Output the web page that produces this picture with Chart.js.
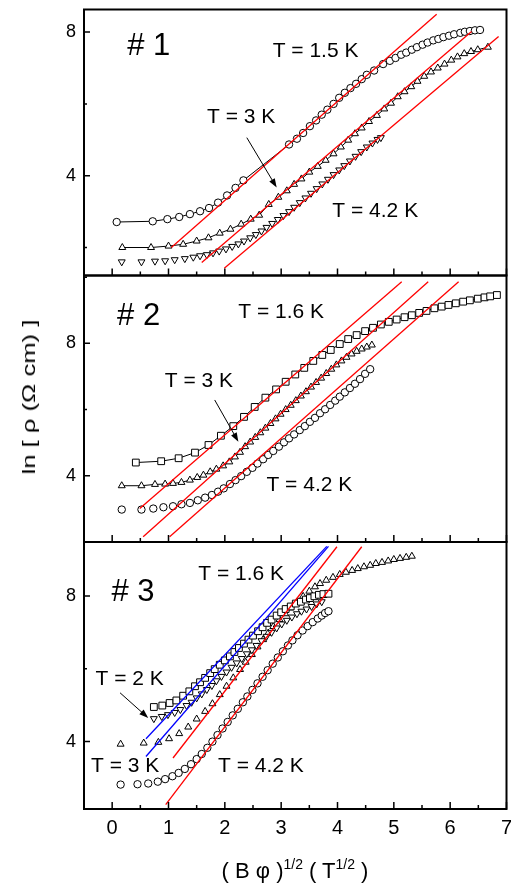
<!DOCTYPE html>
<html>
<head>
<meta charset="utf-8">
<script src="https://cdn.jsdelivr.net/npm/chart.js@4.4.1/dist/chart.umd.min.js"></script>
<style>
  body { margin: 0; background: #fff; }
  #wrap { position: relative; width: 511px; height: 887px; font-family: "Liberation Sans", Arial, sans-serif; color: #000; }
  canvas { position: absolute; left: 0; top: 0; }
  #ytitle { position: absolute; left: 29px; top: 397px; transform: translate(-50%, -50%) rotate(-90deg) scaleX(1.35); font-size: 19px; white-space: nowrap; }
  #xtitle { position: absolute; left: 295px; top: 871px; transform: translate(-50%, -50%); font-size: 22px; white-space: nowrap; }
  #xtitle sup { font-size: 14px; vertical-align: 9px; line-height: 0; }
</style>
</head>
<body>
<div id="wrap">
  <canvas id="c1" width="511" height="887"></canvas>
  <canvas id="c2" width="511" height="887"></canvas>
  <canvas id="c3" width="511" height="887"></canvas>
  <div id="ytitle">ln [ ρ (Ω cm) ]</div>
  <div id="xtitle">( B φ )<sup>1/2</sup> ( T<sup>1/2</sup> )</div>
</div>
<script>
// axis ticks
const xTicks = [0, 1, 2, 3, 4, 5, 6, 7];
const xMinorTicks = [0.5, 1.5, 2.5, 3.5, 4.5, 5.5, 6.5];
const yTicks = [4, 8];
const yMinorTicks = [2, 6, 10];

// panel #1
const p1T15x = [0.08, 0.72, 0.98, 1.19, 1.38, 1.56, 1.72, 1.88, 2.04, 2.19, 2.33, 3.14, 3.28, 3.39, 3.51, 3.62, 3.72, 3.82, 3.93, 4.03, 4.13, 4.23, 4.33, 4.43, 4.52, 4.65, 4.81, 4.93, 5.03, 5.13, 5.22, 5.32, 5.41, 5.51, 5.60, 5.70, 5.79, 5.88, 5.98, 6.07, 6.18, 6.26, 6.35, 6.44, 6.53];
const p1T15y = [2.71, 2.73, 2.79, 2.85, 2.93, 3.01, 3.10, 3.25, 3.45, 3.66, 3.87, 4.87, 5.03, 5.19, 5.38, 5.54, 5.70, 5.84, 6.00, 6.17, 6.31, 6.44, 6.56, 6.69, 6.81, 6.93, 7.11, 7.20, 7.28, 7.37, 7.43, 7.51, 7.58, 7.65, 7.71, 7.77, 7.81, 7.86, 7.90, 7.94, 7.98, 8.01, 8.03, 8.05, 8.06];
const p1T3x = [0.18, 0.69, 1.00, 1.26, 1.50, 1.71, 1.91, 2.10, 2.29, 2.46, 2.61, 2.78, 2.95, 3.10, 3.23, 3.36, 3.50, 3.65, 3.79, 3.93, 4.06, 4.19, 4.31, 4.43, 4.56, 4.70, 4.83, 4.95, 5.07, 5.19, 5.31, 5.42, 5.54, 5.66, 5.78, 5.90, 6.02, 6.13, 6.25, 6.37, 6.49, 6.67];
const p1T3y = [2.00, 2.00, 2.04, 2.09, 2.18, 2.27, 2.40, 2.51, 2.65, 2.79, 2.90, 3.20, 3.40, 3.58, 3.76, 3.91, 4.10, 4.26, 4.43, 4.61, 4.80, 4.99, 5.17, 5.33, 5.51, 5.68, 5.86, 6.02, 6.20, 6.34, 6.48, 6.63, 6.77, 6.89, 7.00, 7.11, 7.22, 7.31, 7.40, 7.46, 7.51, 7.58];
const p1T42x = [0.17, 0.52, 0.76, 0.94, 1.11, 1.29, 1.44, 1.56, 1.68, 1.79, 1.90, 2.02, 2.13, 2.24, 2.34, 2.45, 2.55, 2.65, 2.74, 2.84, 2.94, 3.04, 3.14, 3.23, 3.33, 3.43, 3.53, 3.63, 3.73, 3.83, 3.93, 4.03, 4.12, 4.22, 4.32, 4.42, 4.52, 4.62, 4.71, 4.77];
const p1T42y = [1.60, 1.60, 1.62, 1.63, 1.66, 1.69, 1.73, 1.77, 1.80, 1.85, 1.90, 1.96, 2.03, 2.10, 2.18, 2.27, 2.36, 2.46, 2.56, 2.67, 2.78, 2.89, 3.00, 3.12, 3.25, 3.38, 3.51, 3.64, 3.77, 3.90, 4.03, 4.16, 4.28, 4.41, 4.54, 4.67, 4.80, 4.91, 5.01, 5.06];
const p1Fit15 = [[1.05, 2.00], [5.76, 8.50]];
const p1Fit3 = [[1.59, 1.58], [6.38, 8.02]];
const p1Fit42 = [[1.99, 1.42], [6.86, 7.88]];

// panel #2
const p2T16x = [0.42, 0.87, 1.18, 1.47, 1.71, 1.93, 2.15, 2.34, 2.53, 2.72, 2.91, 3.08, 3.25, 3.41, 3.57, 3.73, 3.88, 4.04, 4.19, 4.34, 4.49, 4.63, 4.77, 4.91, 5.05, 5.19, 5.32, 5.45, 5.58, 5.72, 5.85, 5.97, 6.10, 6.23, 6.35, 6.49, 6.61, 6.71, 6.83];
const p2T16y = [4.40, 4.44, 4.53, 4.70, 4.93, 5.21, 5.50, 5.78, 6.08, 6.36, 6.61, 6.84, 7.06, 7.26, 7.47, 7.65, 7.80, 7.98, 8.13, 8.25, 8.37, 8.47, 8.57, 8.65, 8.72, 8.79, 8.85, 8.92, 8.98, 9.06, 9.11, 9.16, 9.21, 9.26, 9.30, 9.35, 9.39, 9.42, 9.46];
const p2T3x = [0.17, 0.52, 0.76, 0.94, 1.08, 1.23, 1.38, 1.51, 1.62, 1.74, 1.85, 1.97, 2.08, 2.18, 2.27, 2.36, 2.45, 2.54, 2.63, 2.72, 2.81, 2.90, 2.99, 3.08, 3.17, 3.26, 3.35, 3.44, 3.53, 3.62, 3.71, 3.80, 3.89, 3.98, 4.07, 4.16, 4.25, 4.34, 4.43, 4.52, 4.61];
const p2T3y = [3.70, 3.70, 3.74, 3.75, 3.77, 3.80, 3.87, 3.95, 4.02, 4.12, 4.20, 4.30, 4.42, 4.57, 4.71, 4.88, 5.02, 5.16, 5.30, 5.44, 5.58, 5.72, 5.86, 6.00, 6.13, 6.27, 6.41, 6.54, 6.68, 6.82, 6.95, 7.09, 7.22, 7.35, 7.47, 7.58, 7.68, 7.76, 7.83, 7.89, 7.95];
const p2T42x = [0.17, 0.52, 0.73, 0.91, 1.08, 1.23, 1.38, 1.52, 1.65, 1.77, 1.88, 1.98, 2.09, 2.19, 2.29, 2.39, 2.49, 2.58, 2.68, 2.77, 2.86, 2.96, 3.05, 3.14, 3.23, 3.33, 3.42, 3.51, 3.60, 3.69, 3.78, 3.87, 3.96, 4.04, 4.13, 4.22, 4.31, 4.40, 4.49, 4.58];
const p2T42y = [2.98, 2.98, 3.01, 3.05, 3.08, 3.14, 3.18, 3.26, 3.34, 3.42, 3.52, 3.62, 3.75, 3.87, 3.99, 4.12, 4.24, 4.37, 4.50, 4.63, 4.75, 4.88, 5.01, 5.13, 5.25, 5.38, 5.50, 5.63, 5.75, 5.89, 6.01, 6.14, 6.27, 6.39, 6.52, 6.65, 6.78, 6.92, 7.08, 7.22];
const p2Fit16 = [[0.49, 3.01], [5.14, 9.86]];
const p2Fit3 = [[0.55, 2.16], [5.61, 9.86]];
const p2Fit42 = [[1.02, 2.16], [6.15, 9.86]];

// panel #3
const p3T16x = [0.74, 0.89, 1.02, 1.14, 1.26, 1.37, 1.47, 1.56, 1.65, 1.74, 1.82, 1.91, 2.00, 2.09, 2.17, 2.25, 2.34, 2.42, 2.50, 2.59, 2.67, 2.75, 2.83, 2.92, 3.00, 3.08, 3.17, 3.26, 3.35, 3.44, 3.51, 3.59, 3.67, 3.75, 3.84];
const p3T16y = [4.95, 4.99, 5.06, 5.13, 5.26, 5.38, 5.52, 5.63, 5.75, 5.88, 5.99, 6.11, 6.23, 6.34, 6.46, 6.57, 6.69, 6.80, 6.91, 7.03, 7.14, 7.26, 7.35, 7.46, 7.55, 7.64, 7.71, 7.79, 7.84, 7.90, 7.94, 7.99, 8.03, 8.05, 8.06];
const p3T2x = [0.74, 0.88, 0.99, 1.11, 1.21, 1.32, 1.41, 1.50, 1.59, 1.68, 1.77, 1.85, 1.94, 2.03, 2.12, 2.21, 2.30, 2.39, 2.48, 2.56, 2.65, 2.74, 2.83, 2.92, 3.01, 3.10, 3.19, 3.28, 3.36, 3.45, 3.54, 3.63, 3.72];
const p3T2y = [4.63, 4.69, 4.74, 4.80, 4.88, 4.99, 5.08, 5.20, 5.31, 5.43, 5.54, 5.67, 5.79, 5.91, 6.04, 6.16, 6.28, 6.41, 6.52, 6.64, 6.77, 6.89, 7.00, 7.12, 7.23, 7.33, 7.42, 7.51, 7.58, 7.64, 7.71, 7.78, 7.84];
const p3T3x = [0.15, 0.56, 0.82, 1.01, 1.19, 1.35, 1.50, 1.65, 1.78, 1.91, 2.03, 2.15, 2.27, 2.37, 2.48, 2.58, 2.68, 2.77, 2.86, 2.97, 3.07, 3.16, 3.28, 3.39, 3.50, 3.60, 3.69, 3.80, 3.92, 4.04, 4.15, 4.26, 4.36, 4.47, 4.58, 4.68, 4.79, 4.90, 5.00, 5.11, 5.22, 5.32];
const p3T3y = [3.93, 3.96, 3.98, 4.08, 4.22, 4.40, 4.62, 4.83, 5.04, 5.29, 5.52, 5.75, 5.98, 6.18, 6.39, 6.60, 6.80, 6.98, 7.16, 7.35, 7.51, 7.67, 7.82, 7.99, 8.13, 8.25, 8.34, 8.43, 8.51, 8.59, 8.65, 8.70, 8.75, 8.80, 8.84, 8.89, 8.92, 8.96, 9.00, 9.03, 9.06, 9.09];
const p3T42x = [0.15, 0.45, 0.64, 0.81, 0.94, 1.07, 1.18, 1.29, 1.40, 1.50, 1.59, 1.69, 1.78, 1.87, 1.96, 2.05, 2.14, 2.23, 2.32, 2.40, 2.49, 2.58, 2.67, 2.76, 2.85, 2.94, 3.03, 3.12, 3.20, 3.29, 3.38, 3.47, 3.56, 3.65, 3.72, 3.78, 3.84];
const p3T42y = [2.82, 2.83, 2.85, 2.90, 2.97, 3.05, 3.14, 3.25, 3.38, 3.52, 3.66, 3.83, 4.00, 4.18, 4.36, 4.54, 4.72, 4.90, 5.08, 5.24, 5.42, 5.60, 5.78, 5.96, 6.14, 6.31, 6.48, 6.64, 6.78, 6.92, 7.05, 7.17, 7.28, 7.38, 7.46, 7.53, 7.58];
const p3FitBlue16 = [[0.60, 4.08], [3.81, 9.36]];
const p3FitBlue2 = [[0.60, 3.59], [3.84, 9.36]];
const p3Fit3 = [[1.08, 3.55], [3.99, 9.35]];
const p3Fit42 = [[0.95, 2.27], [4.43, 9.35]];

const FONT = '"Liberation Sans", Arial, sans-serif';
Chart.defaults.font.family = FONT;
Chart.defaults.color = '#000';

const pts = (xs, ys) => xs.map((v, i) => ({ x: v, y: ys[i] }));
const fit = (seg, color) => ({
  data: seg.map(p => ({ x: p[0], y: p[1] })), showLine: true, borderColor: color,
  borderWidth: 1.3, pointRadius: 0, order: 0
});
const marks = (xs, ys, style, line) => ({
  data: pts(xs, ys), showLine: !!line, borderColor: '#000', borderWidth: 1,
  pointStyle: style === 'down' ? 'triangle' : style, pointRotation: style === 'down' ? 180 : 0,
  pointRadius: style === 'rect' ? 4.8 : (style === 'circle' ? 3.7 : 4),
  pointBackgroundColor: '#fff', pointBorderColor: '#000', pointBorderWidth: 1, order: 1
});

const deco = {
  id: 'deco',
  afterDatasetsDraw(chart, args, o) {
    const { ctx, chartArea: a, scales: { x, y } } = chart;
    ctx.save();
    ctx.strokeStyle = '#000';
    ctx.lineWidth = 1.5;
    ctx.beginPath();
    xTicks.forEach(v => { const p = x.getPixelForValue(v); ctx.moveTo(p, a.bottom); ctx.lineTo(p, a.bottom - 7); });
    xMinorTicks.forEach(v => { const p = x.getPixelForValue(v); ctx.moveTo(p, a.bottom); ctx.lineTo(p, a.bottom - 4); });
    yTicks.forEach(v => { const p = y.getPixelForValue(v); ctx.moveTo(a.left, p); ctx.lineTo(a.left + 6, p); });
    yMinorTicks.filter(v => v > y.min && v < y.max).forEach(v => {
      const p = y.getPixelForValue(v); ctx.moveTo(a.left, p); ctx.lineTo(a.left + 3, p);
    });
    ctx.stroke();
    ctx.lineWidth = 2;
    ctx.strokeRect(a.left, a.top, a.width, a.height);

    ctx.fillStyle = '#000';
    ctx.textAlign = 'center';
    ctx.textBaseline = 'middle';
    o.labels.forEach(l => {
      ctx.font = l[3] + 'px ' + FONT;
      ctx.fillText(l[0], x.getPixelForValue(l[1]), y.getPixelForValue(l[2]));
    });

    const ar = o.arrow;
    const x1 = x.getPixelForValue(ar[0]), y1 = y.getPixelForValue(ar[1]);
    const x2 = x.getPixelForValue(ar[2]), y2 = y.getPixelForValue(ar[3]);
    const ang = Math.atan2(y2 - y1, x2 - x1);
    ctx.lineWidth = 1;
    ctx.beginPath();
    ctx.moveTo(x1, y1);
    ctx.lineTo(x2 - 6 * Math.cos(ang), y2 - 6 * Math.sin(ang));
    ctx.stroke();
    ctx.beginPath();
    ctx.moveTo(x2, y2);
    ctx.lineTo(x2 - 9 * Math.cos(ang) + 3.2 * Math.sin(ang), y2 - 9 * Math.sin(ang) - 3.2 * Math.cos(ang));
    ctx.lineTo(x2 - 9 * Math.cos(ang) - 3.2 * Math.sin(ang), y2 - 9 * Math.sin(ang) + 3.2 * Math.cos(ang));
    ctx.closePath();
    ctx.fill();
    ctx.restore();
  }
};

function panel(id, datasets, yMin, yMax, padTop, padBottom, showX, deco_) {
  return new Chart(document.getElementById(id), {
    type: 'scatter',
    data: { datasets },
    plugins: [deco],
    options: {
      responsive: false,
      animation: false,
      events: [],
      layout: { autoPadding: false, padding: { left: 0, right: 4.5, top: padTop, bottom: padBottom } },
      plugins: { legend: { display: false }, tooltip: { enabled: false }, deco: deco_ },
      scales: {
        x: {
          type: 'linear', min: -0.5, max: 7, display: showX,
          grid: { display: false, drawTicks: false }, border: { display: false },
          ticks: { font: { size: 20 }, padding: 7, autoSkip: false, maxRotation: 0, color: '#000' },
          afterBuildTicks: s => { s.ticks = xTicks.map(v => ({ value: v })); },
          afterFit: s => { s.height = showX ? 40 : 0; s.paddingLeft = 0; s.paddingRight = 0; }
        },
        y: {
          type: 'linear', min: yMin, max: yMax,
          grid: { display: false, drawTicks: false }, border: { display: false },
          ticks: { font: { size: 18 }, padding: 8, color: '#000' },
          afterBuildTicks: s => { s.ticks = yTicks.map(v => ({ value: v })); },
          afterFit: s => { s.width = 84; s.paddingTop = 0; s.paddingBottom = 0; }
        }
      }
    }
  });
}

panel('c1', [
  fit(p1Fit15, '#ff0000'), fit(p1Fit3, '#ff0000'), fit(p1Fit42, '#ff0000'),
  marks(p1T15x, p1T15y, 'circle', true),
  marks(p1T3x, p1T3y, 'triangle', true),
  marks(p1T42x, p1T42y, 'down', false)
], 1.22, 8.63, 9.5, 611.5, false, {
  labels: [['# 1', 0.65, 7.59, 31], ['T = 1.5 K', 3.61, 7.48, 21], ['T = 3 K', 2.29, 5.62, 21], ['T = 4.2 K', 4.67, 3.00, 21]],
  arrow: [2.39, 5.06, 2.92, 3.67]
});

panel('c2', [
  fit(p2Fit16, '#ff0000'), fit(p2Fit3, '#ff0000'), fit(p2Fit42, '#ff0000'),
  marks(p2T16x, p2T16y, 'rect', true),
  marks(p2T3x, p2T3y, 'triangle', true),
  marks(p2T42x, p2T42y, 'circle', false)
], 2.0, 10.05, 275.5, 345, false, {
  labels: [['# 2', 0.47, 8.82, 31], ['T = 1.6 K', 3.00, 8.93, 21], ['T = 3 K', 1.54, 6.85, 21], ['T = 4.2 K', 3.50, 3.72, 21]],
  arrow: [1.82, 6.29, 2.24, 5.03]
});

panel('c3', [
  fit(p3FitBlue16, '#0000ff'), fit(p3FitBlue2, '#0000ff'), fit(p3Fit3, '#ff0000'), fit(p3Fit42, '#ff0000'),
  marks(p3T16x, p3T16y, 'rect', false),
  marks(p3T2x, p3T2y, 'down', false),
  marks(p3T3x, p3T3y, 'triangle', false),
  marks(p3T42x, p3T42y, 'circle', false)
], 2.15, 9.48, 542, 38, true, {
  labels: [['# 3', 0.37, 8.10, 31], ['T = 1.6 K', 2.29, 8.60, 21], ['T = 2 K', 0.31, 5.71, 21], ['T = 3 K', 0.23, 3.32, 21], ['T = 4.2 K', 2.64, 3.32, 21]],
  arrow: [0.14, 5.34, 0.64, 4.65]
});
</script>
</body>
</html>
